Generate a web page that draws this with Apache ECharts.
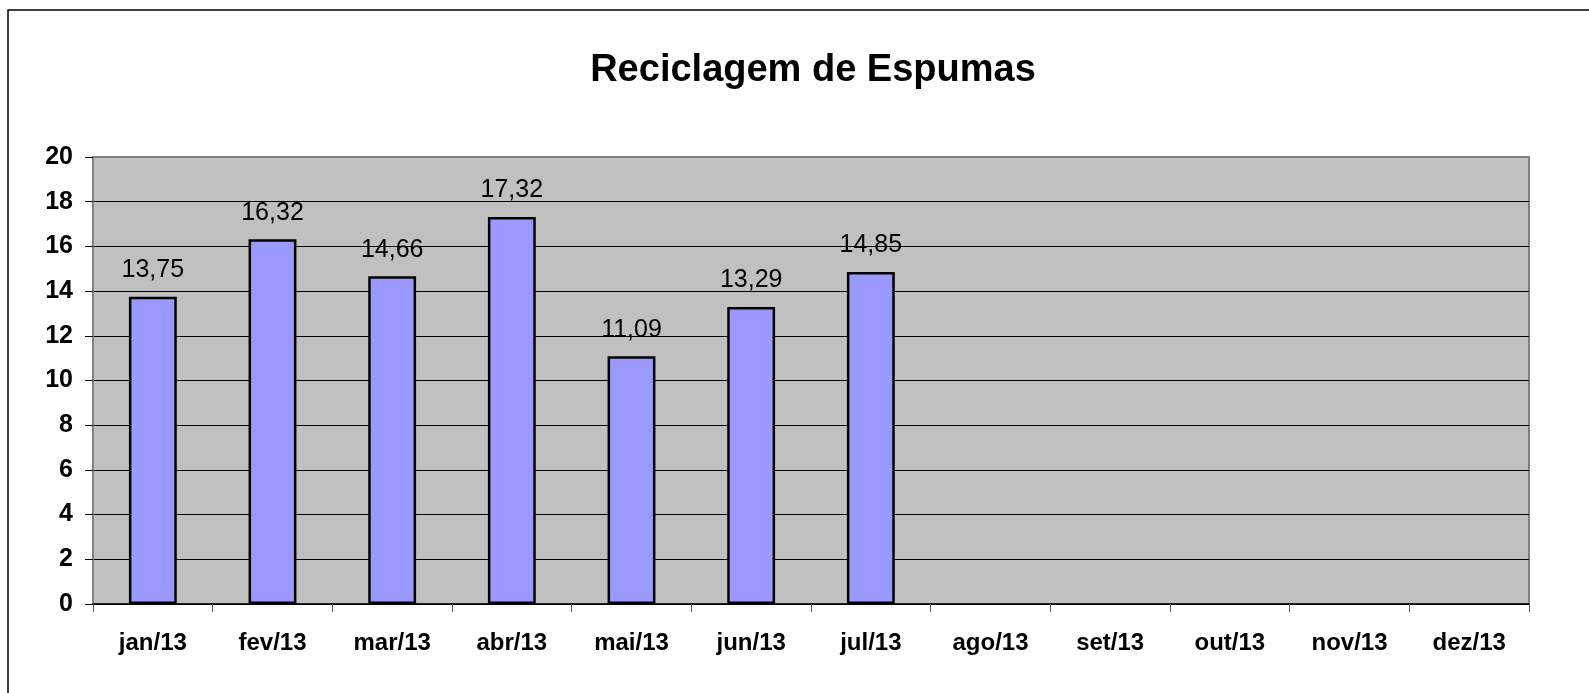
<!DOCTYPE html>
<html>
<head>
<meta charset="utf-8">
<script src="https://cdn.jsdelivr.net/npm/echarts@6/dist/echarts.min.js"></script>
<style>
  html, body { margin: 0; padding: 0; background: #fff; }
  #main { width: 1589px; height: 693px; }
</style>
</head>
<body>
<div id="main"></div>
<script>
var chart = echarts.init(document.getElementById('main'), null, { renderer: 'canvas' });

// dados
var meses = ['jan/13', 'fev/13', 'mar/13', 'abr/13', 'mai/13', 'jun/13', 'jul/13', 'ago/13', 'set/13', 'out/13', 'nov/13', 'dez/13'];
var valores = [13.75, 16.32, 14.66, 17.32, 11.09, 13.29, 14.85, null, null, null, null, null];

var fonte = '"Liberation Sans", Arial, sans-serif';

// linhas de grade pretas, a do topo cinza
var coresGrade = ['#000', '#000', '#000', '#000', '#000', '#000', '#000', '#000', '#000', '#000', '#808080'];

chart.setOption({
    backgroundColor: '#fff',
    animation: false,
    title: {
        text: 'Reciclagem de Espumas',
        left: 808,
        textAlign: 'center',
        top: 47,
        textStyle: { fontFamily: fonte, fontSize: 38, fontWeight: 'bold', color: '#000' }
    },
    graphic: [{
        type: 'rect',
        shape: { x: 8, y: 10, width: 1620, height: 720 },
        style: { fill: 'none', stroke: '#000', lineWidth: 1.5 },
        silent: true
    }],
    grid: {
        left: 93, right: 60, top: 157, bottom: 89,
        show: true,
        backgroundColor: '#C0C0C0',
        borderColor: '#808080',
        borderWidth: 2
    },
    xAxis: {
        type: 'category',
        data: meses,
        axisLine: { lineStyle: { color: '#000', width: 1.5 } },
        axisTick: { show: true, length: 8, lineStyle: { color: '#555' } },
        axisLabel: {
            margin: 27,
            fontFamily: fonte, fontSize: 24, fontWeight: 'bold', color: '#000'
        }
    },
    yAxis: {
        type: 'value',
        min: 0, max: 20, interval: 2,
        axisLine: { show: true, lineStyle: { color: '#808080', width: 2 } },
        axisTick: { show: true, length: 8, lineStyle: { color: '#000' } },
        splitLine: { show: true, lineStyle: { color: coresGrade, width: 1 } },
        axisLabel: {
            margin: 20,
            fontFamily: fonte, fontSize: 25, fontWeight: 'bold', color: '#000'
        }
    },
    series: [{
        type: 'bar',
        data: valores,
        barWidth: '40%',
        itemStyle: { color: '#9999FF', borderColor: '#000', borderWidth: 2.5 },
        label: {
            show: true,
            position: 'top',
            distance: 14,
            fontFamily: fonte, fontSize: 25, color: '#000',
            formatter: function (p) {
                return p.value == null ? '' : p.value.toFixed(2).replace('.', ',');
            }
        }
    }]
});
</script>
</body>
</html>
